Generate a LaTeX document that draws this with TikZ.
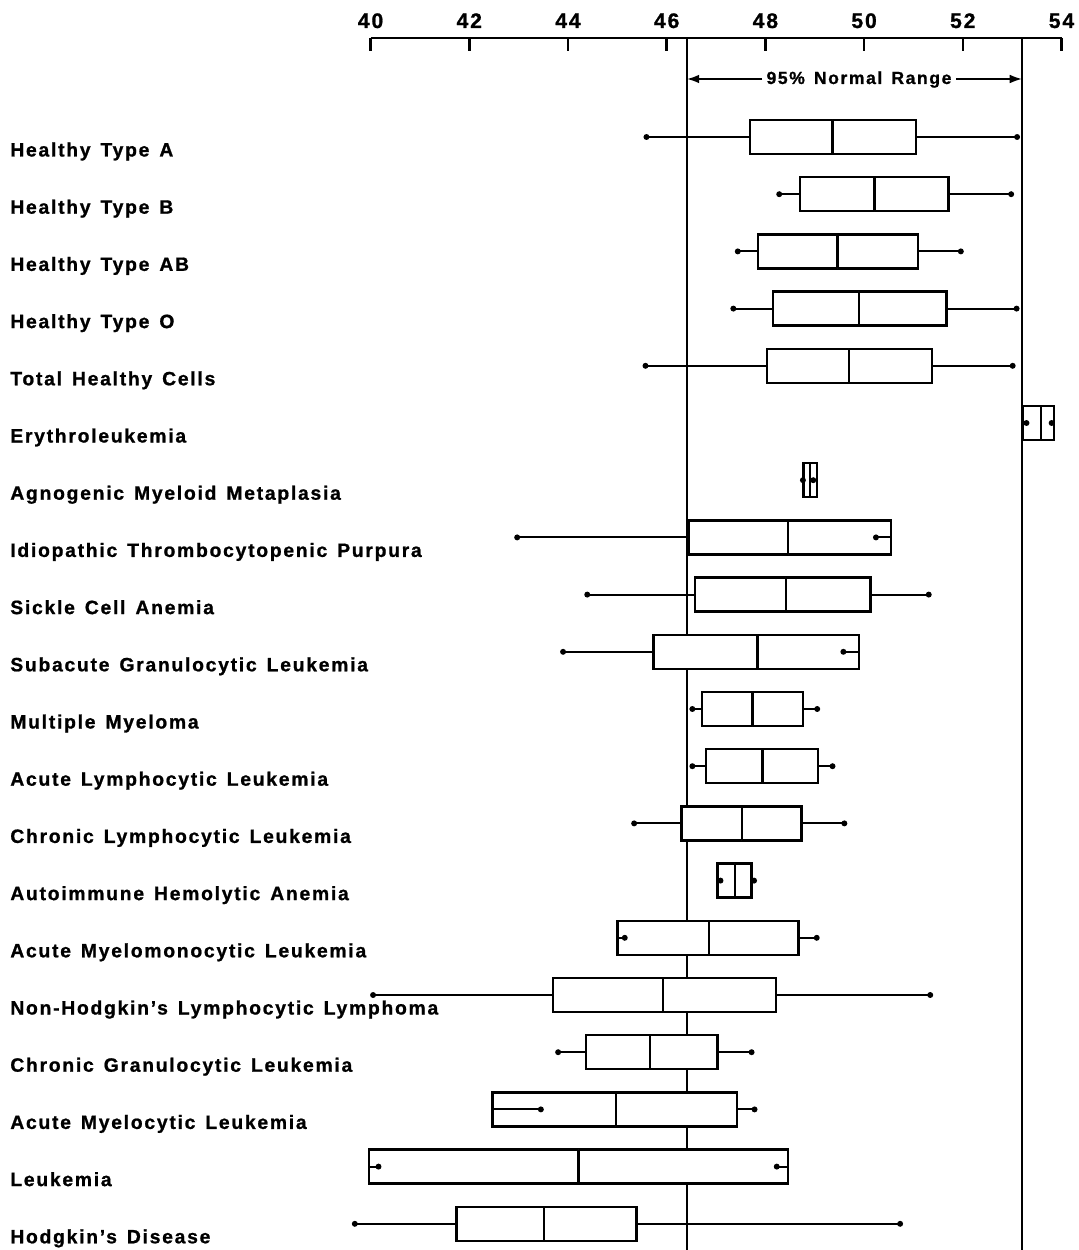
\documentclass[tikz,border=0pt]{standalone}
\usepackage{fontspec}
\setmainfont{Liberation Sans}
\newfontfamily\lblfont[LetterSpace=9,WordSpace=1.4,FakeBold=1]{Liberation Sans Bold}
\usetikzlibrary{arrows.meta}

\begin{document}
\begin{tikzpicture}[x=0.02cm,y=-0.02cm,
    declare function={gx(\v)=49.35*\v-1603.4;},
    font=\lblfont\fontsize{11}{13}\selectfont,
    bx/.style={draw,fill=white,line width=1.3pt},
    wsk/.style={line width=1.1pt},
    lbl/.style={anchor=base west,inner sep=0pt},
    nrm/.style={line width=1.4pt}
  ]
\useasboundingbox (0,0) rectangle (1078,1250);

\coordinate (nlt) at ({gx(46.41)},38);
\coordinate (nlb) at ({gx(46.41)},1250);
\coordinate (nrt) at ({gx(53.2)},38);
\coordinate (nrb) at ({gx(53.2)},1250);
\draw[nrm] (nlt) -- (nlb);
\draw[nrm] (nrt) -- (nrb);

\draw[nrm] ({gx(40)},38) -- ({gx(54)},38);
\foreach \t in {40,42,...,54}
  {\draw[nrm] ({gx(\t)},38) -- ({gx(\t)},51);
   \node (tick\t) [anchor=base,inner sep=0pt,font=\lblfont\fontsize{12}{14}\selectfont]
     at ({gx(\t)},28) {\t};}

\node (range) [anchor=base,inner sep=0pt,font=\lblfont\fontsize{10}{12}\selectfont]
  at (859,84) {95\% Normal Range};
\coordinate (ra) at (762,79);
\coordinate (rb) at (956,79);
\draw[wsk,-{Latex[length=7pt,width=5pt]}] (ra) -- (ra -| nlt);
\draw[wsk,-{Latex[length=7pt,width=5pt]}] (rb) -- (rb -| nrt);

\foreach \lo/\qa/\md/\qb/\hi [count=\i from 0] in
  {45.59/47.69/49.36/51.05/53.10, 48.28/48.70/50.21/51.71/52.98,
   47.44/47.85/49.46/51.09/51.96, 47.35/48.15/49.89/51.67/53.09,
   45.57/48.03/49.69/51.38/53.01, 53.29/53.21/53.58/53.85/53.80,
   48.76/48.77/48.90/49.04/48.97, 42.97/46.45/48.46/50.55/50.24,
   44.39/46.57/48.41/50.13/51.31, 43.90/45.73/47.84/49.90/49.58,
   46.52/46.71/47.74/48.76/49.05, 46.52/46.80/47.94/49.07/49.36,
   45.34/46.30/47.52/48.73/49.60, 47.09/47.03/47.38/47.72/47.77,
   45.15/45.00/46.86/48.67/49.04, 40.05/43.70/45.93/48.21/51.34,
   43.80/44.36/45.66/47.03/47.72, 43.45/42.47/44.97/47.42/47.78,
   40.16/39.97/44.21/48.46/48.23, 39.68/41.74/43.52/45.39/50.73}
  {\pgfmathsetmacro\yy{137+57.2*\i}
   \filldraw[bx] ({gx(\qa)},\yy-17) rectangle ({gx(\qb)},\yy+17);
   \draw[bx] ({gx(\md)},\yy-17) -- ({gx(\md)},\yy+17);
   \draw[wsk] ({gx(\qa)},\yy) -- ({gx(\lo)},\yy) ({gx(\qb)},\yy) -- ({gx(\hi)},\yy);
   \fill ({gx(\lo)},\yy) circle[radius=1.7pt] ({gx(\hi)},\yy) circle[radius=1.7pt];}

\foreach \txt [count=\i from 0] in
  {Healthy Type A, Healthy Type B, Healthy Type AB, Healthy Type O,
   Total Healthy Cells, Erythroleukemia, Agnogenic Myeloid Metaplasia,
   Idiopathic Thrombocytopenic Purpura, Sickle Cell Anemia,
   Subacute Granulocytic Leukemia, Multiple Myeloma,
   Acute Lymphocytic Leukemia, Chronic Lymphocytic Leukemia,
   Autoimmune Hemolytic Anemia, Acute Myelomonocytic Leukemia,
   Non-Hodgkin’s Lymphocytic Lymphoma, Chronic Granulocytic Leukemia,
   Acute Myelocytic Leukemia, Leukemia, Hodgkin’s Disease}
  \node[lbl] (lab\i) at (10,{137+57.2*\i+19.5}) {\txt};
\end{tikzpicture}
\end{document}
